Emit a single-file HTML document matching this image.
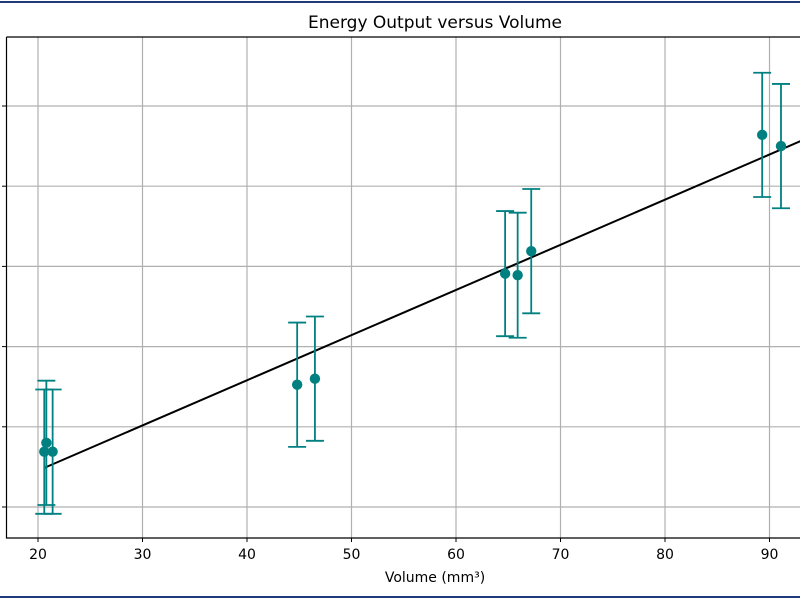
<!DOCTYPE html>
<html><head><meta charset="utf-8"><style>body{margin:0;background:#fff}svg{display:block;font-family:"DejaVu Sans","Liberation Sans",sans-serif}</style></head>
<body>
<svg id="c" width="800" height="600">
<rect x="0" y="1" width="800" height="2" fill="#1f3a7a"/>
<rect x="0" y="596" width="800" height="2" fill="#1f3a7a"/>
<text x="435" y="28" font-size="17" text-anchor="middle" fill="#000">Energy Output versus Volume</text>
<text x="435" y="582" font-size="14" text-anchor="middle" fill="#000">Volume (mm³)</text>
<defs><clipPath id="pc"><rect x="6.5" y="37" width="800" height="501"/></clipPath></defs>
<g id="grid"></g><g id="marks" clip-path="url(#pc)"></g><g id="axes"></g>
</svg>
<script>
const xTicks=[20,30,40,50,60,70,80,90];
const yTicks=[0,1,2,3,4,5];
const volumes=[20.8,20.6,21.4,44.8,46.5,64.7,65.9,67.2,89.3,91.1];
const energies=[0.8,0.69,0.69,1.525,1.6,2.91,2.89,3.19,4.64,4.5];
const errors=[0.775,0.775,0.775,0.775,0.775,0.78,0.78,0.775,0.775,0.775];
const fitSlope=0.0563, fitIntercept=-0.672, fitStart=20.6, fitEnd=96;
const NS="http://www.w3.org/2000/svg";
const ax=v=>38+(v-20)*10.45;
const ay=v=>507-v*80.2;
function mk(p,t,a){const e=document.createElementNS(NS,t);for(const k in a)e.setAttribute(k,a[k]);document.getElementById(p).appendChild(e);return e;}
xTicks.forEach(t=>{const x=ax(t);
 let g=mk('grid','line',{x1:x,x2:x,y1:37,y2:538,stroke:'#b0b0b0','stroke-width':1.2});
 
 
 let k=mk('axes','line',{x1:x,x2:x,y1:538,y2:542,stroke:'#000'});
 
 
 let l=mk('axes','text',{x:x,y:559,'font-size':14,'text-anchor':'middle'});l.textContent=t;
 
 
});
yTicks.forEach(t=>{const y=ay(t);
 let g=mk('grid','line',{x1:6.5,x2:800,y1:y,y2:y,stroke:'#b0b0b0','stroke-width':1.2});
 
 
 let k=mk('axes','line',{x1:2,x2:6.5,y1:y,y2:y,stroke:'#000'});
 
 
});
let fl=mk('marks','line',{x1:ax(fitStart),y1:ay(fitSlope*fitStart+fitIntercept),x2:ax(fitEnd),y2:ay(fitSlope*fitEnd+fitIntercept),stroke:'#000','stroke-width':2});


volumes.forEach((v,i)=>{const x=ax(v),y=ay(energies[i]),t=ay(energies[i]+errors[i]),b=ay(energies[i]-errors[i]);
 let e=mk('marks','path',{d:`M${x},${t}V${b}M${x-9},${t}H${x+9}M${x-9},${b}H${x+9}`,stroke:'#008080','stroke-width':1.8,fill:'none'});
 
 
 let c=mk('marks','circle',{cx:x,cy:y,r:5.2,fill:'#008080'});
 
 
});
let sp=mk('axes','path',{d:'M6.5,37H800M6.5,37V538H800',stroke:'#000','stroke-width':1.2,fill:'none'});


</script>
</body></html>
